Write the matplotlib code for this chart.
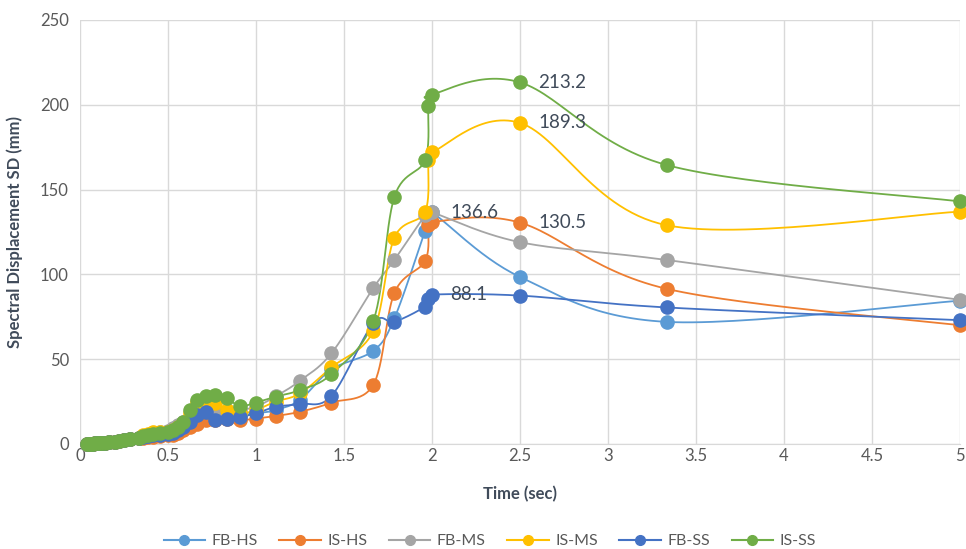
import numpy as np
import matplotlib.pyplot as plt
from matplotlib.lines import Line2D

plt.rcParams['font.family'] = ['Lato', 'DejaVu Sans']

# periods (sec)
T = [0.04, 0.05, 0.0625, 0.0714, 0.0833, 0.1, 0.111, 0.125, 0.143, 0.167,
     0.2, 0.222, 0.25, 0.286, 0.333, 0.357, 0.385, 0.417, 0.455, 0.5,
     0.526, 0.556, 0.588, 0.625, 0.667, 0.714, 0.769, 0.833, 0.909, 1.0,
     1.111, 1.25, 1.429, 1.667, 1.786, 1.961, 1.98, 2.0, 2.5, 3.333, 5.0]

low = [0.1, 0.15, 0.2, 0.25, 0.3, 0.4, 0.5, 0.6, 0.8, 1.0,
       1.4, 1.8, 2.3, 3.0, 3.8]

fb_hs = low + [4.3, 4.8, 5.2, 5.6, 6.2, 7.5, 9, 11, 14, 17, 19, 15, 16, 17, 18,
               20, 26, 44, 55, 74, 125.8, 132, 136.5, 98.5, 72, 84.5]
is_hs = low + [3.8, 4.0, 4.3, 4.6, 5.0, 5.5, 6.5, 8, 10, 12, 14, 14, 15, 14, 15,
               16.5, 19, 24.4, 35, 89, 108, 129, 131, 130.5, 91.5, 70]
fb_ms = low + [4.8, 5.3, 6.0, 6.8, 7.8, 9.5, 11, 13, 15, 22, 20, 20, 18.5, 20, 22,
               28, 37.3, 53.5, 92, 108.5, 135, 136, 136.6, 119, 108.5, 85]
is_ms = low + [5.0, 6.0, 6.8, 7.2, 7.0, 8.5, 10, 12, 18, 25, 24.5, 24, 20, 18, 20,
               25, 29.8, 45.2, 66.6, 121.6, 137, 167.5, 172, 189.3, 129, 137]
fb_ss = low + [4.2, 4.6, 5.0, 5.3, 5.6, 6.5, 8, 10, 13, 17, 19, 14, 15, 16, 18,
               22, 23.6, 28.3, 71.3, 72, 81, 85.5, 88.1, 87.5, 80.5, 73]
is_ss = low + [4.6, 5.2, 5.8, 6.3, 7.0, 8.5, 10, 13, 20, 26, 28.5, 29, 27, 22.4, 24.4,
               27.9, 31.8, 41.3, 72.7, 145.6, 167.5, 199, 206, 213.2, 164.5, 143]

names = ['FB-HS', 'IS-HS', 'FB-MS', 'IS-MS', 'FB-SS', 'IS-SS']
colors = ['#5B9BD5', '#ED7D31', '#A5A5A5', '#FFC000', '#4472C4', '#70AD47']
series = [fb_hs, is_hs, fb_ms, is_ms, fb_ss, is_ss]

# data labels: (series index, point index)
labels = [(5, 38), (3, 38), (1, 38), (2, 37), (4, 37)]


def smooth(x, y, n=30):
    # Excel-like smoothed line: Catmull-Rom style cubic Bezier segments
    x = np.asarray(x, float)
    y = np.asarray(y, float)
    px, py = [], []
    for i in range(len(x) - 1):
        x0, y0 = (x[i - 1], y[i - 1]) if i > 0 else (x[i], y[i])
        x3, y3 = (x[i + 2], y[i + 2]) if i + 2 < len(x) else (x[i + 1], y[i + 1])
        c1x = x[i] + (x[i + 1] - x0) / 6
        c1y = y[i] + (y[i + 1] - y0) / 6
        c2x = x[i + 1] - (x3 - x[i]) / 6
        c2y = y[i + 1] - (y3 - y[i]) / 6
        t = np.linspace(0, 1, n)
        a = (1 - t) ** 3
        b = 3 * (1 - t) ** 2 * t
        c = 3 * (1 - t) * t ** 2
        d = t ** 3
        px.extend(a * x[i] + b * c1x + c * c2x + d * x[i + 1])
        py.extend(a * y[i] + b * c1y + c * c2y + d * y[i + 1])
    return px, py


fig = plt.figure(figsize=(9.66, 5.49), dpi=100)
ax = fig.add_axes([0.0828, 0.1913, 0.911, 0.7723])

for vals, col in zip(series, colors):
    sx, sy = smooth(T, vals)
    ax.plot(sx, sy, color=col, lw=1.3, zorder=3)
    ax.plot(T, vals, 'o', color=col, ms=9.5, mec=col, zorder=4, clip_on=False)

for si, pi in labels:
    ax.annotate(f"{series[si][pi]:.1f}", (T[pi], series[si][pi]),
                xytext=(13, 0), textcoords='offset points', va='center',
                fontsize=13.5, color='#404B5A', zorder=5)

ax.set_xlim(0, 5)
ax.set_ylim(0, 250)
ax.set_xticks(np.arange(0, 5.01, 0.5))
ax.set_xticklabels(['0', '0.5', '1', '1.5', '2', '2.5', '3', '3.5', '4', '4.5', '5'])
ax.set_yticks(np.arange(0, 251, 50))
ax.grid(True, color='#D9D9D9', lw=1)
ax.set_axisbelow(True)
for s in ['top', 'right', 'left']:
    ax.spines[s].set_visible(False)
ax.spines['bottom'].set_color('#D9D9D9')
ax.tick_params(axis='x', pad=3)
ax.tick_params(axis='y', pad=8)
ax.tick_params(length=0, labelsize=12, labelcolor='#595959')

ax.set_xlabel('Time (sec)', fontsize=12, fontweight='bold', color='#404B5A', labelpad=16)
ax.set_ylabel('Spectral Displacement SD (mm)', fontsize=12, fontweight='bold',
              color='#404B5A', labelpad=12)

handles = [Line2D([], [], color=c, lw=1.5, marker='o', ms=7) for c in colors]
fig.legend(handles, names, loc='center', ncol=6, frameon=False,
           bbox_to_anchor=(0.507, 0.014), fontsize=11.5, handlelength=2.6,
           handletextpad=0.4, columnspacing=1.35, labelcolor='#595959')

fig.savefig('out.png', dpi=100)
